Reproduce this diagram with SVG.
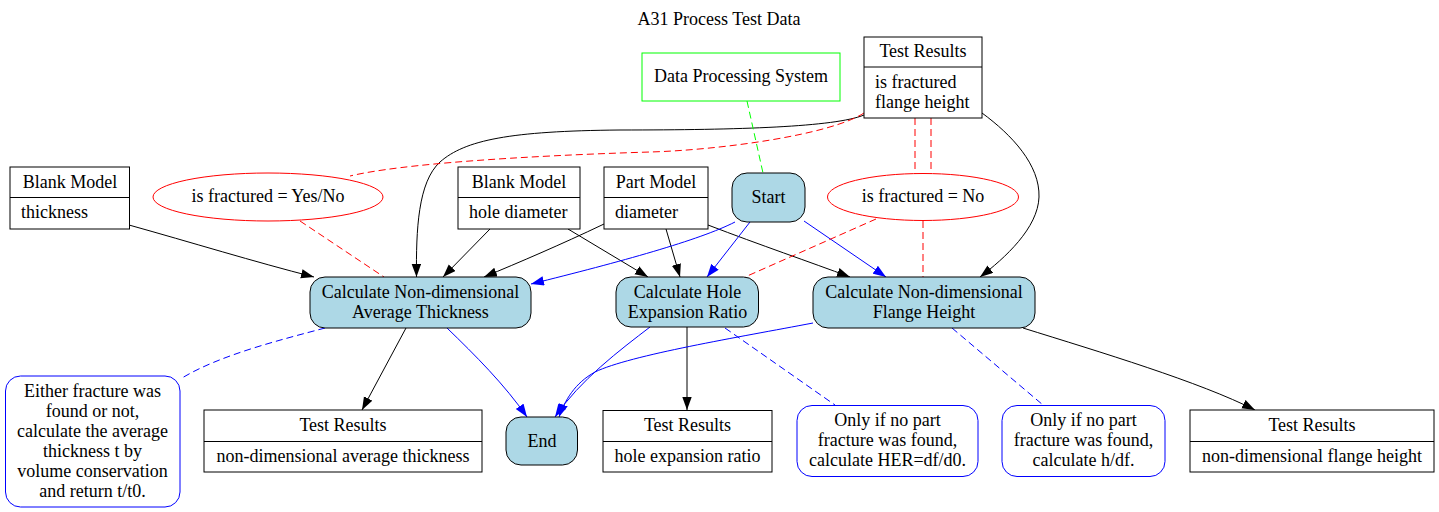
<svg xmlns="http://www.w3.org/2000/svg" width="1439" height="512" viewBox="0 0 1439 512">
<style>
text{font-family:"Liberation Serif","Times New Roman",Times,serif;font-size:18px;fill:#000}
.c{text-anchor:middle}
.rec{fill:#fff;stroke:#000;stroke-width:1}
.proc{fill:#add8e6;stroke:#000;stroke-width:1}
.cond{fill:#fff;stroke:#f00;stroke-width:1}
.note{fill:#fff;stroke:#00f;stroke-width:1}
.e{fill:none;stroke-width:1}
.k{stroke:#000;marker-end:url(#ak)}
.b{stroke:#00f;marker-end:url(#ab)}
.r{stroke:#f00;stroke-dasharray:7,4}
.g{stroke:#0f0;stroke-dasharray:7,4}
.bd{stroke:#00f;stroke-dasharray:7,4}
</style>
<defs>
<marker id="ak" markerWidth="14" markerHeight="10" refX="13" refY="4.7" orient="auto" markerUnits="userSpaceOnUse"><path d="M0,0 L13,4.7 L0,9.4 z" fill="#000"/></marker>
<marker id="ab" markerWidth="14" markerHeight="10" refX="13" refY="4.7" orient="auto" markerUnits="userSpaceOnUse"><path d="M0,0 L13,4.7 L0,9.4 z" fill="#00f"/></marker>
</defs>
<rect width="1439" height="512" fill="#fff"/>
<text class="c" x="719" y="25">A31 Process Test Data</text>

<g id="edges">
<path class="e k" d="M129,225 C190,242 255,262 314,277"/>
<path class="e k" d="M864,115 C835,127 740,130 620,130 C510,131 465,140 440,162 C418,182 416,230 416.5,277"/>
<path class="e k" d="M982,113 C1012,135 1040,165 1039,197 C1038,228 1005,258 980,277"/>
<path class="e k" d="M490,229 L443,277"/>
<path class="e k" d="M568,229 L648,277"/>
<path class="e k" d="M604,224 C560,245 520,262 484,277"/>
<path class="e k" d="M666,229 L680,277"/>
<path class="e k" d="M708,225 C760,245 810,262 850,277"/>
<path class="e k" d="M406,328 L362,410"/>
<path class="e k" d="M687,327 L687,410"/>
<path class="e k" d="M1023,328 C1100,352 1200,382 1255,410"/>
<path class="e b" d="M735,222 C700,240 620,262 531,284"/>
<path class="e b" d="M750,222 L707,277"/>
<path class="e b" d="M804,221 L886,277"/>
<path class="e b" d="M447,328 C475,355 505,385 527,417"/>
<path class="e b" d="M650,327 C620,350 580,380 555,417"/>
<path class="e b" d="M813,323 C740,337 630,355 595,372 C575,383 565,400 559,417"/>
<path class="e r" d="M864,113 C830,135 720,150 650,152 C520,156 400,164 350,176"/>
<path class="e r" d="M300,221 L384,277"/>
<path class="e r" d="M915,118 L915,174"/>
<path class="e r" d="M931,118 L931,174"/>
<path class="e r" d="M876,219 L745,277"/>
<path class="e r" d="M923,221 L923,277"/>
<path class="e g" d="M747,101 L763,173"/>
<path class="e bd" d="M325,328 C280,340 220,355 182,378"/>
<path class="e bd" d="M725,328 L835,405"/>
<path class="e bd" d="M952,328 L1043,405"/>
</g>

<g id="dps">
<rect x="642" y="53" width="198" height="48" fill="#fff" stroke="#0f0"/>
<text class="c" x="741" y="82">Data Processing System</text>
</g>

<g id="test_results_top">
<rect class="rec" x="864" y="37" width="118" height="81"/>
<line x1="864" y1="67" x2="982" y2="67" stroke="#000"/>
<text class="c" x="923" y="57">Test Results</text>
<text x="875" y="87.5">is fractured</text>
<text x="875" y="107.5">flange height</text>
</g>

<g id="blank_model_thickness">
<rect class="rec" x="10" y="167" width="119.5" height="62"/>
<line x1="10" y1="197.5" x2="129.5" y2="197.5" stroke="#000"/>
<text class="c" x="70" y="188">Blank Model</text>
<text x="21" y="218">thickness</text>
</g>

<g id="cond_yesno">
<ellipse class="cond" cx="268" cy="197" rx="115" ry="24"/>
<text class="c" x="268" y="202">is fractured = Yes/No</text>
</g>

<g id="blank_model_hole">
<rect class="rec" x="458" y="167" width="122" height="62"/>
<line x1="458" y1="197.5" x2="580" y2="197.5" stroke="#000"/>
<text class="c" x="519" y="188">Blank Model</text>
<text x="469" y="218">hole diameter</text>
</g>

<g id="part_model">
<rect class="rec" x="604" y="167" width="104" height="62"/>
<line x1="604" y1="197.5" x2="708" y2="197.5" stroke="#000"/>
<text class="c" x="656" y="188">Part Model</text>
<text x="615" y="218">diameter</text>
</g>

<g id="start">
<rect class="proc" x="732" y="173" width="73" height="49" rx="15"/>
<text class="c" x="768.5" y="202.5">Start</text>
</g>

<g id="cond_no">
<ellipse class="cond" cx="923" cy="197" rx="95.5" ry="23.5"/>
<text class="c" x="923" y="202">is fractured = No</text>
</g>

<g id="calc_thickness">
<rect class="proc" x="310" y="277" width="221" height="51" rx="15"/>
<text class="c" x="420.5" y="297.5">Calculate Non-dimensional</text>
<text class="c" x="420.5" y="317.5">Average Thickness</text>
</g>

<g id="calc_her">
<rect class="proc" x="616" y="277" width="142.5" height="50" rx="15"/>
<text class="c" x="687.5" y="297.5">Calculate Hole</text>
<text class="c" x="687.5" y="317.5">Expansion Ratio</text>
</g>

<g id="calc_flange">
<rect class="proc" x="813" y="277" width="222" height="51" rx="15"/>
<text class="c" x="924" y="297.5">Calculate Non-dimensional</text>
<text class="c" x="924" y="317.5">Flange Height</text>
</g>

<g id="note_thickness">
<rect class="note" x="5.5" y="376" width="174.5" height="131" rx="15"/>
<text class="c" x="92.5" y="396.5">Either fracture was</text>
<text class="c" x="92.5" y="416.5">found or not,</text>
<text class="c" x="92.5" y="436.5">calculate the average</text>
<text class="c" x="92.5" y="456.5">thickness t by</text>
<text class="c" x="92.5" y="476.5">volume conservation</text>
<text class="c" x="92.5" y="496.5">and return t/t0.</text>
</g>

<g id="tr_thickness">
<rect class="rec" x="204" y="410" width="278" height="62"/>
<line x1="204" y1="441.5" x2="482" y2="441.5" stroke="#000"/>
<text class="c" x="343" y="431">Test Results</text>
<text class="c" x="343" y="462">non-dimensional average thickness</text>
</g>

<g id="end">
<rect class="proc" x="506" y="417" width="71.5" height="48" rx="15"/>
<text class="c" x="542" y="446.5">End</text>
</g>

<g id="tr_her">
<rect class="rec" x="603" y="410.5" width="169" height="61.5"/>
<line x1="603" y1="441.5" x2="772" y2="441.5" stroke="#000"/>
<text class="c" x="687.5" y="431">Test Results</text>
<text class="c" x="687.5" y="462">hole expansion ratio</text>
</g>

<g id="note_her">
<rect class="note" x="797" y="405.5" width="181" height="71" rx="15"/>
<text class="c" x="887.5" y="426">Only if no part</text>
<text class="c" x="887.5" y="446">fracture was found,</text>
<text class="c" x="887.5" y="466">calculate HER=df/d0.</text>
</g>

<g id="note_flange">
<rect class="note" x="1002" y="405.5" width="163" height="71" rx="15"/>
<text class="c" x="1083.5" y="426">Only if no part</text>
<text class="c" x="1083.5" y="446">fracture was found,</text>
<text class="c" x="1083.5" y="466">calculate h/df.</text>
</g>

<g id="tr_flange">
<rect class="rec" x="1190" y="410" width="244" height="62"/>
<line x1="1190" y1="441.5" x2="1434" y2="441.5" stroke="#000"/>
<text class="c" x="1312" y="431">Test Results</text>
<text class="c" x="1312" y="462">non-dimensional flange height</text>
</g>
</svg>
